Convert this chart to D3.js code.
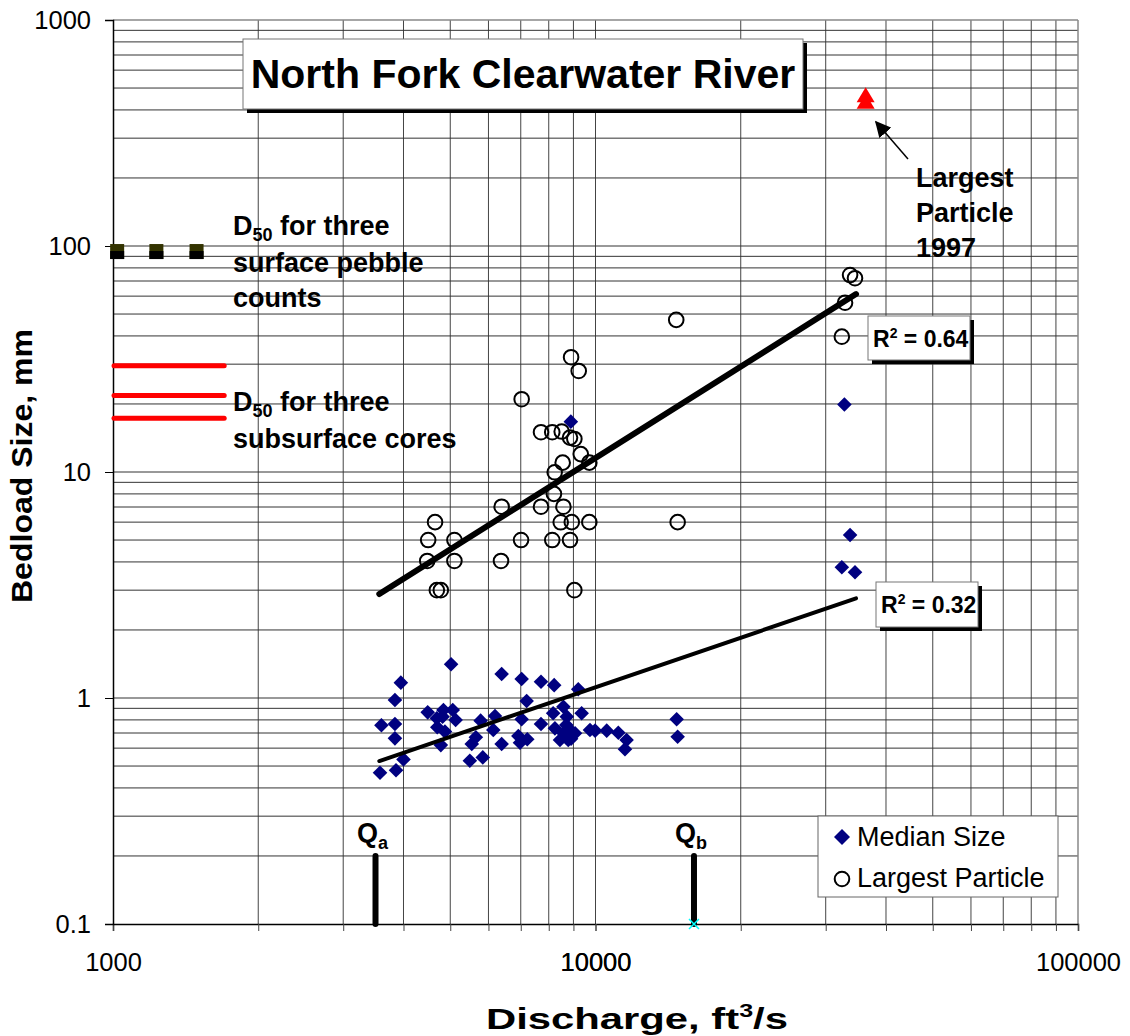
<!DOCTYPE html>
<html><head><meta charset="utf-8">
<script src="https://cdn.jsdelivr.net/npm/d3@7"></script>
<style>
body{margin:0;background:#fff}
svg{display:block}
text{font-family:"Liberation Sans",Arial,sans-serif;fill:#000}
</style>
</head><body>
<svg id="chart" width="1130" height="1036"></svg>
<script>
// ---------- data ----------
const medianQ = [3576,3860,4000,3600,3840,3840,3840,3950,5020,4490,4690,4840,5060,5130,4700,4875,4780,4820,5490,5840,5540,5650,5780,6140,6190,6390,6390,7030,7030,6920,6975,7200,7220,7710,8210,9210,8580,8170,7710,8720,9360,8240,8440,8780,8855,9070,8580,9740,9980,10550,11150,11600,11510,14730,14800,8890,32800,33700,32400,34500,8900,8700];
const medianSize = [0.467,0.479,0.535,0.757,0.767,0.663,0.980,1.169,1.41,0.864,0.813,0.885,0.885,0.799,0.742,0.710,0.619,0.827,0.528,0.546,0.626,0.670,0.794,0.722,0.833,0.626,1.277,1.214,0.805,0.679,0.634,0.970,0.657,1.18,1.14,1.093,0.915,0.856,0.767,0.827,0.856,0.734,0.652,0.652,0.722,0.698,0.698,0.722,0.717,0.717,0.702,0.652,0.593,0.805,0.674,16.7,19.9,5.26,3.79,3.60,0.66,0.76];
const largestQ = [8900,9230,7030,7710,8135,8510,8855,9040,9320,9710,8550,8230,8200,7710,8580,6390,8470,8930,9710,4650,4500,5100,7010,8135,8855,4480,5100,6370,4690,4780,9040,14700,14800,33700,34500,32900,32400];
const largestSize = [32.2,28.0,21.0,15.0,15.0,15.1,14.2,14.0,12.0,11.0,11.0,9.97,8.0,7.02,7.02,7.02,5.99,6.0,6.0,6.0,5.0,5.0,5.0,5.0,5.0,4.04,4.04,4.04,3.0,3.0,3.0,47.1,6.0,74.4,72.0,56.1,39.7];
const largest1997Q = [36300,36300];
const largest1997Size = [460,430];
const pebbleQ = [1020,1230,1490];
const pebbleD50 = [95,95,95];
const coreD50 = [29.5,21.8,17.3];
const coreQRange = [1005,1700];
const medianTrendQ = [3564,34670];
const medianTrendSize = [0.526,2.76];
const largestTrendQ = [3564,34670];
const largestTrendSize = [2.885,61.3];
const qNames = ["a","b"];
const qValues = [3500,16000];
const qBarRange = [0.1,0.2];
const xTicks = [1000,10000,100000];
const yTicks = [0.1,1,10,100,1000];
const r2Values = ["0.64","0.32"];
const seriesNames = ["Median Size","Largest Particle"];

// ---------- layout ----------
const svg = d3.select("#chart");
const L=113, R=1078, T=20, B=924;
const x = d3.scaleLog().domain([1000,100000]).range([L,R]);
const y = d3.scaleLog().domain([0.1,1000]).range([B,T]);

// gridlines
const xGrid=[], yGrid=[];
for (let d=1000; d<100000; d*=10) for (let k=2;k<=9;k++) xGrid.push(k*d);
xGrid.push(10000);
for (let d=0.1; d<1000; d*=10) for (let k=2;k<=9;k++) yGrid.push(+(k*d).toPrecision(3));
yGrid.push(1,10,100);
const g = svg.append("g");
g.selectAll("line.vg").data(xGrid).join("line")
  .attr("x1",d=>x(d)).attr("x2",d=>x(d)).attr("y1",T).attr("y2",B)
  .attr("stroke","#444").attr("stroke-width",1);
g.selectAll("line.hg").data(yGrid).join("line")
  .attr("x1",L).attr("x2",R).attr("y1",d=>y(d)).attr("y2",d=>y(d))
  .attr("stroke","#333").attr("stroke-width",1);
// frame
svg.append("line").attr("x1",L).attr("x2",R).attr("y1",T).attr("y2",T).attr("stroke","#888").attr("stroke-width",1.5);
svg.append("line").attr("x1",R).attr("x2",R).attr("y1",T).attr("y2",B).attr("stroke","#888").attr("stroke-width",1.5);

// axes
const xAxis = d3.axisBottom(x).tickValues(xGrid.concat(xTicks)).tickSize(7).tickFormat(d=>xTicks.includes(d)?d:"");
const gx = svg.append("g").attr("transform",`translate(0,${B})`).call(xAxis);
gx.select(".domain").attr("stroke","#000").attr("stroke-width",1.5);
gx.selectAll(".tick line").attr("stroke","#444");
gx.selectAll(".tick text").attr("font-size",25.5).attr("font-family","Liberation Sans, Arial, sans-serif").attr("dy",null).attr("y",47);
const yAxis = d3.axisLeft(y).tickValues(yTicks).tickSize(8).tickFormat(d=>d);
const gy = svg.append("g").attr("transform",`translate(${L},0)`).call(yAxis);
gy.select(".domain").attr("stroke","#000").attr("stroke-width",1.5);
gy.selectAll(".tick line").attr("stroke","#000");
gy.selectAll(".tick text").attr("font-size",25.5).attr("font-family","Liberation Sans, Arial, sans-serif").attr("x",-22).attr("dy","0.34em");

// axis titles
svg.append("text").attr("transform","translate(32,466) rotate(-90)").attr("text-anchor","middle")
  .attr("font-size",29).attr("font-weight","bold")
  .attr("textLength",274).attr("lengthAdjust","spacingAndGlyphs").text("Bedload Size, mm");
const xt = svg.append("text").attr("x",486).attr("y",1029)
  .attr("font-size",30).attr("font-weight","bold")
  .attr("textLength",302).attr("lengthAdjust","spacingAndGlyphs");
xt.append("tspan").text("Discharge, ft");
xt.append("tspan").attr("font-size",18).attr("dy",-12).text("3");
xt.append("tspan").attr("dy",12).text("/s");

// subsurface cores (red lines)
svg.selectAll("line.core").data(coreD50).join("line")
  .attr("x1",x(coreQRange[0])).attr("x2",x(coreQRange[1]))
  .attr("y1",d=>y(d)).attr("y2",d=>y(d))
  .attr("stroke","#ff0000").attr("stroke-width",5).attr("stroke-linecap","round");

// surface pebble squares
const peb = pebbleQ.map((q,i)=>({q, v:pebbleD50[i]}));
svg.selectAll("rect.peb").data(peb).join("rect")
  .attr("x",d=>x(d.q)-7).attr("y",d=>y(d.v)-7).attr("width",14).attr("height",15).attr("fill","#333300");
svg.selectAll("rect.peb2").data(peb).join("rect")
  .attr("x",d=>x(d.q)-7).attr("y",d=>y(d.v)).attr("width",14).attr("height",8).attr("fill","#000");

// largest particle circles
const largest = largestQ.map((q,i)=>({q, v:largestSize[i]}));
svg.selectAll("circle.lp").data(largest).join("circle")
  .attr("cx",d=>x(d.q)).attr("cy",d=>y(d.v)).attr("r",7.3)
  .attr("fill","none").attr("stroke","#000").attr("stroke-width",2);

// median diamonds
const diamond = s => `M0,${-s}L${s},0L0,${s}L${-s},0Z`;
const median = medianQ.map((q,i)=>({q, v:medianSize[i]}));
svg.selectAll("path.md").data(median).join("path")
  .attr("d",diamond(7.3)).attr("transform",d=>`translate(${x(d.q)},${y(d.v)})`)
  .attr("fill","#000080");

// 1997 largest particle triangles
const tri = largest1997Q.map((q,i)=>({q, v:largest1997Size[i]}));
svg.selectAll("path.tri").data(tri).join("path")
  .attr("d","M0,-9L9,6L-9,6Z").attr("transform",d=>`translate(${x(d.q)},${y(d.v)})`)
  .attr("fill","#ff0000");

// trend lines
const line = d3.line().x(d=>x(d[0])).y(d=>y(d[1]));
svg.append("path").datum(largestTrendQ.map((q,i)=>[q,largestTrendSize[i]])).attr("d",line)
  .attr("stroke","#000").attr("stroke-width",6).attr("fill","none").attr("stroke-linecap","round");
svg.append("path").datum(medianTrendQ.map((q,i)=>[q,medianTrendSize[i]])).attr("d",line)
  .attr("stroke","#000").attr("stroke-width",4).attr("fill","none").attr("stroke-linecap","round");

// Qa / Qb bars
qValues.forEach((q,i)=>{
  svg.append("line").attr("x1",x(q)).attr("x2",x(q)).attr("y1",y(qBarRange[1])).attr("y2",y(qBarRange[0]))
    .attr("stroke","#000").attr("stroke-width",6).attr("stroke-linecap","round");
  const t = svg.append("text").attr("x",x(q)-3).attr("y",y(qBarRange[1])-14).attr("text-anchor","middle")
    .attr("font-size",27).attr("font-weight","bold");
  t.append("tspan").text("Q");
  t.append("tspan").attr("font-size",18).attr("dy",7).text(qNames[i]);
});
// cyan x at Qb
const cx = x(qValues[1]), cy = y(qBarRange[0]);
svg.append("path").attr("d",`M${cx-5},${cy-5}L${cx+5},${cy+5}M${cx-5},${cy+5}L${cx+5},${cy-5}`)
  .attr("stroke","#00ffff").attr("stroke-width",1.5);

// annotations
function multiLine(x0, ys, parts){
  parts.forEach((p,i)=>{
    const t = svg.append("text").attr("x",x0).attr("y",ys[i]).attr("font-size",27).attr("font-weight","bold");
    if (Array.isArray(p)) {
      t.append("tspan").text(p[0]);
      t.append("tspan").attr("font-size",18).attr("dy",6).text(p[1]);
      t.append("tspan").attr("dy",-6).text(p[2]);
    } else t.text(p);
  });
}
multiLine(233,[235,272,307],[["D","50"," for three"],"surface pebble","counts"]);
multiLine(233,[411,448],[["D","50"," for three"],"subsurface cores"]);
multiLine(916,[187,222,257],["Largest","Particle","1997"]);

// arrow
svg.append("defs").append("marker").attr("id","ah").attr("viewBox","0 0 10 10").attr("refX",9).attr("refY",5)
  .attr("markerWidth",16).attr("markerHeight",16).attr("markerUnits","userSpaceOnUse").attr("orient","auto")
  .append("path").attr("d","M0,0L10,5L0,10Z").attr("fill","#000");
svg.append("line").attr("x1",908).attr("y1",159).attr("x2",876).attr("y2",122)
  .attr("stroke","#000").attr("stroke-width",1.5).attr("marker-end","url(#ah)");

// boxes with shadow
function shadowBox(bx,by,bw,bh){
  svg.append("rect").attr("x",bx+4).attr("y",by+4).attr("width",bw).attr("height",bh).attr("fill","#000");
  svg.append("rect").attr("x",bx).attr("y",by).attr("width",bw).attr("height",bh).attr("fill","#fff").attr("stroke","#777").attr("stroke-width",1);
}
shadowBox(243,39,560,70);
svg.append("text").attr("x",523).attr("y",88).attr("text-anchor","middle").attr("font-size",41).attr("font-weight","bold").text("North Fork Clearwater River");

const r2Pos = [[868,316,102,44],[876,582,102,45]];
r2Values.forEach((v,i)=>{
  const [bx,by,bw,bh]=r2Pos[i];
  shadowBox(bx,by,bw,bh);
  const t = svg.append("text").attr("x",bx+5).attr("y",by+31).attr("font-size",23).attr("font-weight","bold");
  t.append("tspan").text("R");
  t.append("tspan").attr("font-size",14).attr("dy",-9).text("2");
  t.append("tspan").attr("dy",9).text(" = "+v);
});

// legend
svg.append("rect").attr("x",818).attr("y",816).attr("width",240).attr("height",81).attr("fill","#fff").attr("stroke","#666").attr("stroke-width",1);
svg.append("path").attr("d",diamond(8)).attr("transform","translate(842,837)").attr("fill","#000080");
svg.append("circle").attr("cx",842).attr("cy",879).attr("r",7.3).attr("fill","none").attr("stroke","#000").attr("stroke-width",2);
seriesNames.forEach((n,i)=>{
  svg.append("text").attr("x",857).attr("y",[846,887][i]).attr("font-size",27).text(n);
});
</script>
</body></html>
